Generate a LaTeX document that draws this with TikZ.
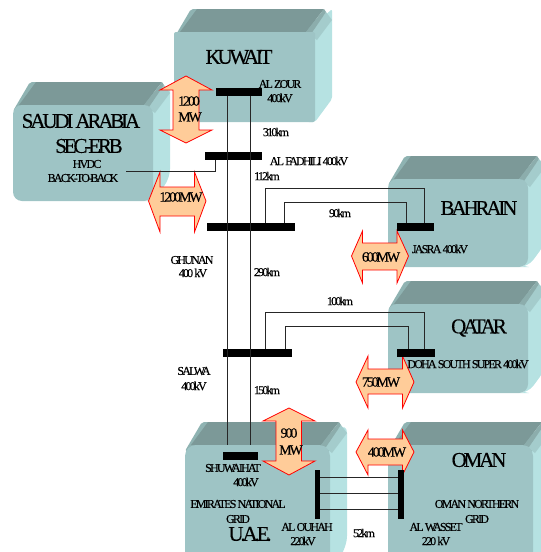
\documentclass[tikz,border=0pt]{standalone}
\usepackage{fontspec}
\setmainfont[LetterSpace=-15,FakeBold=0.35]{Liberation Serif}

\definecolor{boxFront}{HTML}{9EC4C5}
\definecolor{boxTop}{HTML}{7C9998}
\definecolor{boxEdge}{HTML}{8FB3B2}
\definecolor{boxSide}{HTML}{B6E2E2}
\definecolor{boxBlendA}{HTML}{8CADAC}
\definecolor{boxBlendB}{HTML}{A4CCCC}
\definecolor{flowFill}{HTML}{FFCC99}

\tikzset{
	busBar/.style={fill=black,inner sep=0pt,minimum width=#1},
	tieLine/.style={line width=1pt,black!85},
	flowArrow/.style={draw=red,fill=flowFill,line width=0.8pt,line join=miter},
	bigLabel/.style={inner sep=0pt,font=\fontsize{21}{21}\selectfont},
	midLabel/.style={inner sep=0pt,font=\fontsize{14}{14}\selectfont},
	smallLabel/.style={inner sep=0pt,font=\fontsize{12}{12}\selectfont}
}

% x, y, width, height of the front face, radius
\newcommand{\countrybox}[5]{
	\pgfmathsetmacro\bx{#1+#3}
	\pgfmathsetmacro\by{#2+#4}
	\fill [boxSide,rounded corners=#5pt] (\bx-8,#2) -- (\bx+17,#2-23) -- (\bx+17,\by-23) -- (\bx,\by) -- (\bx-8,\by) -- cycle;
	\fill [boxEdge,rounded corners=2pt] (#1,#2+6) -- (#1+17,#2-23) -- (\bx,#2-23) -- (\bx,#2+6) -- cycle;
	\fill [boxTop] (#1+6,#2) -- (#1+23,#2-23) -- (\bx+9,#2-23) -- (\bx-9,#2) -- cycle;
	\fill [boxBlendB] (\bx-6,#2+2) -- (\bx+11,#2-20) -- (\bx+17,#2-12) -- (\bx+2,#2+8) -- cycle;
	\fill [boxBlendA] (\bx-9,#2) -- (\bx+9,#2-23) -- (\bx+11,#2-20) -- (\bx-4,#2+2) -- cycle;
	\fill [boxFront,rounded corners=#5pt] (#1,#2) rectangle (\bx,\by);
}

\begin{document}
\begin{tikzpicture}[x=1pt,y=-1pt]

	\clip (0,0) rectangle (541,552);

	\countrybox{174}{32}{141}{90}{2}
	\countrybox{13}{105}{140}{96}{9}
	\countrybox{388}{179}{140}{88}{9}
	\countrybox{388}{304}{140}{89}{9}
	\countrybox{388}{445}{145}{125}{11}
	\countrybox{185}{445}{145}{125}{11}

	\draw [flowArrow] (186,76) -- (212,90) -- (199,90) -- (199,130) -- (212,130) -- (186,143) -- (160,130) -- (173,130) -- (173,90) -- (160,90) -- cycle;
	\draw [flowArrow] (148.5,201) -- (160,172) -- (160,187) -- (194.5,187) -- (194.5,172) -- (206,201) -- (194.5,232) -- (194.5,216) -- (160,216) -- (160,232) -- cycle;
	\draw [flowArrow] (351.5,256) -- (362.5,231) -- (362.5,243) -- (397,243) -- (397,231) -- (408.5,256) -- (397,283) -- (397,270) -- (362.5,270) -- (362.5,283) -- cycle;
	\draw [flowArrow] (356,382) -- (368,356) -- (368,369) -- (402.5,369) -- (402.5,356) -- (414,382) -- (402.5,408) -- (402.5,394) -- (368,394) -- (368,408) -- cycle;
	\draw [flowArrow] (356,452) -- (368,430) -- (368,439) -- (402.5,439) -- (402.5,430) -- (414,452) -- (402.5,475) -- (402.5,465) -- (368,465) -- (368,475) -- cycle;
	\draw [flowArrow] (289,408) -- (315,421) -- (301.5,421) -- (301.5,461) -- (315,461) -- (289,475) -- (263,461) -- (276,461) -- (276,421) -- (263,421) -- cycle;

	\node (busKuwait) at (239,92) [busBar=46pt,minimum height=8pt] {};
	\node (busFadhili) at (233.5,156) [busBar=57pt,minimum height=8pt] {};
	\node (busGhunan) at (251,227) [busBar=88pt,minimum height=8pt] {};
	\node (busSalwa) at (257.5,353) [busBar=69pt,minimum height=8pt] {};
	\node (busShuwaihat) at (240.5,456) [busBar=35pt,minimum height=8pt] {};
	\node (busJasra) at (415.5,227) [busBar=37pt,minimum height=8pt] {};
	\node (busDoha) at (416,353) [busBar=38pt,minimum height=8pt] {};
	\node (busOuhah) at (317.5,494.5) [busBar=5pt,minimum height=49pt] {};
	\node (busWasset) at (401,494.5) [busBar=6pt,minimum height=49pt] {};

	\coordinate (trunkW) at (227.5,445);
	\coordinate (trunkE) at (250,445);
	\draw [tieLine] (trunkW |- busKuwait.south) -- (trunkW);
	\draw [tieLine] (trunkE |- busKuwait.south) -- (trunkE);

	\coordinate (hvdcEnd) at (126,171);
	\coordinate (hvdcTap) at (215,171);
	\draw [tieLine] (hvdcEnd) -- (hvdcTap) -- (hvdcTap |- busFadhili.south);

	\coordinate (bahOutL) at (265.5,188);
	\coordinate (bahOutR) at (424,188);
	\coordinate (bahInL) at (284.7,202);
	\coordinate (bahInR) at (406.7,202);
	\draw [tieLine] (bahOutL |- busGhunan.north) -- (bahOutL) -- (bahOutR) -- (bahOutR |- busJasra.north);
	\draw [tieLine] (bahInL |- busGhunan.north) -- (bahInL) -- (bahInR) -- (bahInR |- busJasra.north);

	\coordinate (qatOutL) at (265.7,312.7);
	\coordinate (qatOutR) at (424,312.7);
	\coordinate (qatInL) at (285.7,326.7);
	\coordinate (qatInR) at (408.7,326.7);
	\draw [tieLine] (qatOutL |- busSalwa.north) -- (qatOutL) -- (qatOutR) -- (qatOutR |- busDoha.north);
	\draw [tieLine] (qatInL |- busSalwa.north) -- (qatInL) -- (qatInR) -- (qatInR |- busDoha.north);

	\coordinate (omanA) at (350,477);
	\coordinate (omanB) at (350,493);
	\coordinate (omanC) at (350,509);
	\draw [tieLine] (busOuhah.east |- omanA) -- (busWasset.west |- omanA);
	\draw [tieLine] (busOuhah.east |- omanB) -- (busWasset.west |- omanB);
	\draw [tieLine] (busOuhah.east |- omanC) -- (busWasset.west |- omanC);

	\node (kuwait) at (239,57) [bigLabel] {KUWAIT};
	\node (saudi) at (81,121) [bigLabel] {SAUDI ARABIA};
	\node (secerb) at (89,146) [bigLabel] {SEC-ERB};
	\node (bahrain) at (479,208) [bigLabel] {BAHRAIN};
	\node (qatar) at (479,328) [bigLabel] {QATAR};
	\node (oman) at (479,460) [bigLabel] {OMAN};
	\node (uae) at (250,534) [bigLabel] {U.A.E.};

	\node (hvdc) at (87,164) [smallLabel] {HVDC};
	\node (backtoback) at (83,178) [smallLabel] {BACK-TO-BACK};

	\node (flowA) at (189,101) [midLabel] {1200};
	\node (flowAunit) at (190,117) [midLabel] {MW};
	\node (flowB) at (181,197) [midLabel] {1200MW};
	\node (flowC) at (381,257) [midLabel] {600MW};
	\node (flowD) at (381,382) [midLabel] {750MW};
	\node (flowE) at (387,452) [midLabel] {400MW};
	\node (flowF) at (289,433) [midLabel] {900};
	\node (flowFunit) at (291,450) [midLabel] {MW};

	\node (zour) at (280,84) [smallLabel] {AL ZOUR};
	\node (zourkv) at (280,98) [smallLabel] {400kV};
	\node (lenKuwait) at (276,132) [smallLabel] {310km};
	\node (fadhili) at (309,161) [smallLabel] {AL FADHILI 400kV};
	\node (lenFadhili) at (267,176) [smallLabel] {112km};
	\node (ghunan) at (192,260) [smallLabel] {GHUNAN};
	\node (ghunankv) at (193,273) [smallLabel] {400 kV};
	\node (lenGhunan) at (267,272) [smallLabel] {290km};
	\node (lenBahrain) at (340,213) [smallLabel] {90km};
	\node (jasra) at (440,249) [smallLabel] {JASRA 400kV};
	\node (lenQatar) at (340,301) [smallLabel] {100km};
	\node (doha) at (468,364) [smallLabel] {DOHA SOUTH SUPER 400kV};
	\node (salwa) at (194,371) [smallLabel] {SALWA};
	\node (salwakv) at (194,386) [smallLabel] {400kV};
	\node (lenSalwa) at (267,390) [smallLabel] {150km};
	\node (shuwaihat) at (233,468) [smallLabel] {SHUWAIHAT};
	\node (shuwaihatkv) at (246,482) [smallLabel] {400kV};
	\node (emirates) at (238,504) [smallLabel] {EMIRATES NATIONAL};
	\node (emiratesgrid) at (238,519) [smallLabel] {GRID};
	\node (ouhah) at (307,527) [smallLabel] {AL OUHAH};
	\node (ouhahkv) at (303,541) [smallLabel] {220kV};
	\node (omangrid) at (477,504) [smallLabel] {OMAN NORTHERN};
	\node (omangridb) at (477,519) [smallLabel] {GRID};
	\node (wasset) at (436,527) [smallLabel] {AL WASSET};
	\node (wassetkv) at (436,541) [smallLabel] {220 kV};
	\node (lenOman) at (364,533) [smallLabel] {52km};

\end{tikzpicture}
\end{document}
